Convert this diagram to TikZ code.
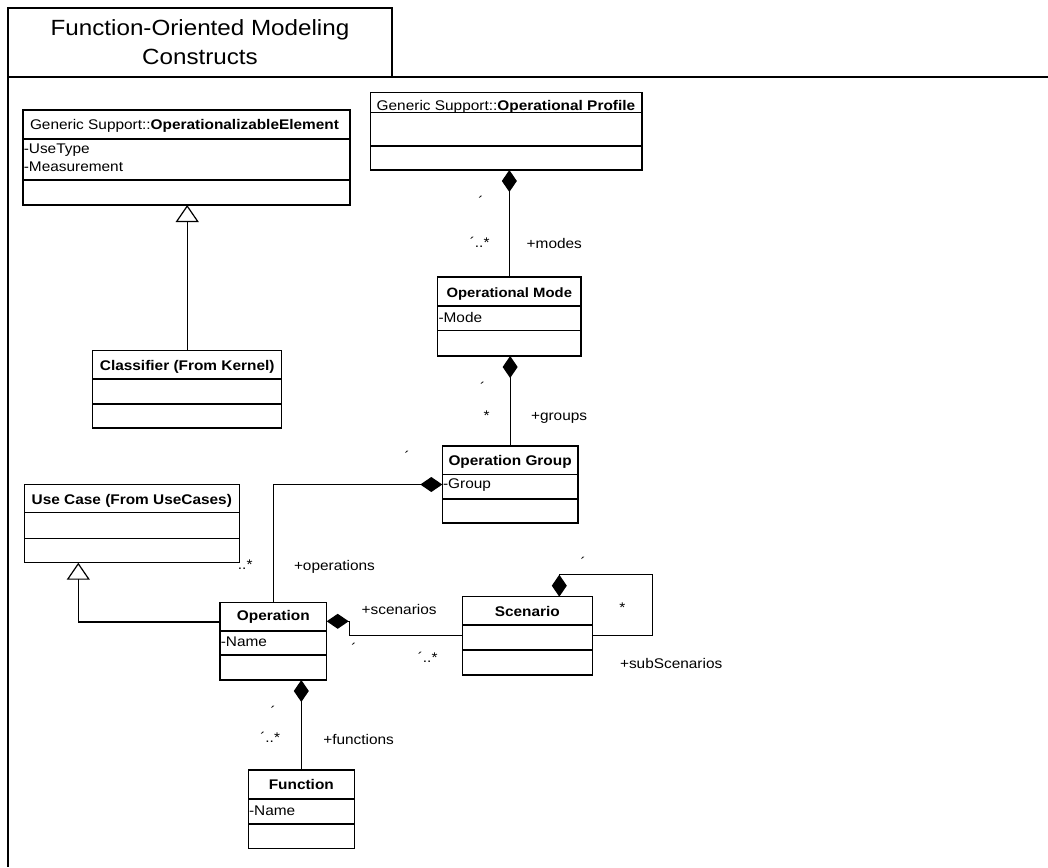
\documentclass[tikz,border=0pt]{standalone}
\usepackage{fontspec}
\setmainfont{Liberation Sans}[FakeStretch=1.1]
\usetikzlibrary{arrows.meta,calc}

% one UML class: name, x, y (top left), width, height, offsets of the two separators
\newcommand\umlclass[7]{%
  \node[classbox, minimum width=#4pt, minimum height=#5pt] (#1) at (#2,#3) {};
  \draw[classline] ([yshift=-#6pt]#1.north west) -- ([yshift=-#6pt]#1.north east);
  \draw[classline] ([yshift=-#7pt]#1.north west) -- ([yshift=-#7pt]#1.north east);
}

\begin{document}
\begin{tikzpicture}[x=1pt,y=-1pt,
  txt/.style={inner sep=0pt, outer sep=0pt, font=\fontsize{14}{16}\selectfont},
  classbox/.style={draw, line width=1.3pt, anchor=north west, inner sep=0pt, outer sep=0pt},
  classline/.style={line width=1.3pt},
  frame/.style={line width=1.4pt},
  connector/.style={line width=1.2pt, line join=miter},
  comp/.style={connector, arrows={Diamond[length=22pt,width=15pt]-}},
  gen/.style={connector, arrows={-Triangle[open,length=17pt,width=23pt,fill=white]}},
  hdr/.style={txt, anchor=base, font=\fontsize{14}{16}\selectfont\bfseries},
  hdrl/.style={txt, anchor=base west},
  attr/.style={txt, anchor=base west},
  role/.style={txt, anchor=base west},
  mult/.style={txt, anchor=base east},
  tick/.style={txt, anchor=base},
  ttl/.style={inner sep=0pt, anchor=base, font=\fontsize{22}{25}\selectfont}]

\useasboundingbox (0,0) rectangle (1048,867);

% package frame with its name tab
\draw[frame] (8,77) -- (8,8) -- (392,8) -- (392,77);
\draw[frame] (1048,77) -- (8,77) -- (8,867);
\node[ttl] (title1) at (200,36) {Function-Oriented Modeling};
\node[ttl] (title2) at (200,64) {Constructs};

% classes
\umlclass{opel}{23}{110}{327}{95}{29}{70}
\umlclass{prof}{370.7}{92.7}{271.3}{77.3}{19.6}{53.3}
\umlclass{mode}{437.7}{277}{143.3}{79}{29}{53.7}
\umlclass{clsf}{92.7}{350.7}{189}{77.3}{28.3}{53.3}
\umlclass{group}{442.3}{446}{135.7}{77}{28.3}{53}
\umlclass{ucase}{24.3}{484.3}{215}{78.4}{28.4}{54}
\umlclass{oper}{220}{602.3}{106.7}{77.7}{28.7}{52.7}
\umlclass{scen}{462.3}{596.7}{130}{78.3}{28.3}{53.3}
\umlclass{func}{248.3}{770}{106}{78.3}{29}{54}

% class names and attributes
\node[hdrl] (opel-n) at (30,129) {Generic Support::\textbf{OperationalizableElement}};
\node[attr] (opel-a1) at (23.8,153.5) {-UseType};
\node[attr] (opel-a2) at (23.8,171.5) {-Measurement};
\node[hdrl] (prof-n) at (376.7,110) {Generic Support::\textbf{Operational Profile}};
\node[hdr, font=\fontsize{13.5}{16}\selectfont\bfseries] (mode-n) at (509.3,297) {Operational Mode};
\node[attr] (mode-a) at (438.5,322.7) {-Mode};
\node[hdr] (clsf-n) at (187.2,370) {Classifier (From Kernel)};
\node[hdr] (group-n) at (510.1,465) {Operation Group};
\node[attr] (group-a) at (443.1,488.5) {-Group};
\node[hdr] (ucase-n) at (131.8,504) {Use Case (From UseCases)};
\node[hdr] (oper-n) at (273.3,620.5) {Operation};
\node[attr] (oper-a) at (220.8,646.5) {-Name};
\node[hdr] (scen-n) at (527.3,616) {Scenario};
\node[hdr] (func-n) at (301.3,789.3) {Function};
\node[attr] (func-a) at (249.1,815) {-Name};

% generalizations
\draw[gen] (clsf.north) -- (clsf.north |- opel.south);
\draw[gen] ($(oper.north west)+(0,19.7)$) -| ($(ucase.south west)+(54,0)$);

% compositions
\draw[comp] (mode.north |- prof.south) -- (mode.north);
\draw[comp] (group.north |- mode.south) -- (group.north);
\draw[comp] (group.west) -| (oper.north);
\draw[comp] ($(oper.north east)+(0,19)$) -- ++(22.5,0) |- (scen.west);
\draw[comp] ($(scen.north west)+(97,0)$) -- ++(0,-22) -| ($(scen.east)+(60,0)$) -- (scen.east);
\draw[comp] (func.north |- oper.south) -- (func.north);

% roles and multiplicities
\node[tick] (m1) at (481,206.5) {´};
\node[mult] (m2) at (489.5,247.5) {´..*};
\node[role] (r1) at (526.7,248) {+modes};
\node[tick] (m3) at (482.7,392) {´};
\node[tick] (m4) at (486.7,420) {*};
\node[role] (r2) at (531,420) {+groups};
\node[tick] (m5) at (407.3,461.5) {´};
\node[mult] (m6) at (252.5,569.5) {..*};
\node[role] (r3) at (294,570.5) {+operations};
\node[role] (r4) at (361.7,614) {+scenarios};
\node[tick] (m7) at (354,653.5) {´};
\node[mult] (m8) at (437.5,662.5) {´..*};
\node[tick] (m9) at (583.3,567.5) {´};
\node[tick] (m10) at (622.3,612) {*};
\node[role] (r5) at (620,668.3) {+subScenarios};
\node[tick] (m11) at (273.3,716) {´};
\node[mult] (m12) at (280,742.5) {´..*};
\node[role] (r6) at (323.3,744) {+functions};
\end{tikzpicture}
\end{document}
